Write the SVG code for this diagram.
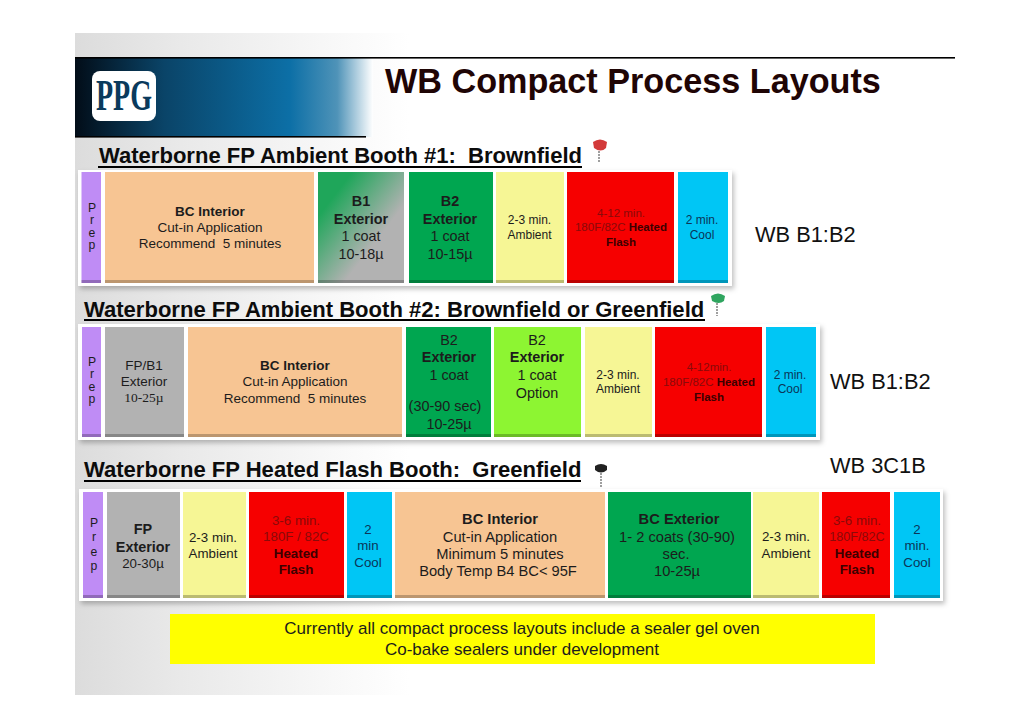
<svg xmlns="http://www.w3.org/2000/svg" width="1030" height="728" viewBox="0 0 1030 728">
<defs>
<linearGradient id="bg" x1="0" x2="1" y1="0" y2="0"><stop offset="0" stop-color="#dcdcdc"/><stop offset="0.12" stop-color="#e9e9e9"/><stop offset="0.28" stop-color="#f7f7f7"/><stop offset="0.38" stop-color="#fff"/></linearGradient>
<linearGradient id="band" x1="0" x2="1" y1="0" y2="0"><stop offset="0" stop-color="#020d18"/><stop offset="0.3" stop-color="#0a4468"/><stop offset="0.72" stop-color="#0c6fa6"/><stop offset="0.88" stop-color="#4f93b8"/><stop offset="1" stop-color="#fff"/></linearGradient>
<linearGradient id="b1" x1="0" y1="0" x2="1" y2="1"><stop offset="0.2" stop-color="#1fa65a"/><stop offset="0.65" stop-color="#b2b2b2"/></linearGradient>
<filter id="sh" x="-5%" y="-10%" width="110%" height="125%"><feDropShadow dx="2" dy="3" stdDeviation="2.5" flood-color="#000" flood-opacity="0.25"/></filter>
</defs>
<style>
text{font-family:"Liberation Sans",Arial,sans-serif;fill:#1c1c1c}
.c{text-anchor:middle}
.b{font-weight:700}
.h{font-size:22.05px;font-weight:700;fill:#0c0c0c}
.wb{font-size:21.8px;fill:#111}
.p{font-size:12.2px}
.s11{font-size:12px}
.sr{font-size:11.5px}
.s12{font-size:13.5px}
.s13{font-size:14.4px}
.s3{font-size:13.3px}
.s14{font-size:14.7px}
.r{fill:#8a0a0a}
.rb{fill:#3c0000;font-weight:700}
.cy{fill:#0b3558}
.panel{fill:#fff;filter:url(#sh)}
.edge{fill:#000;opacity:.24}
.serif{font-family:"Liberation Serif",serif}
.ul{stroke:#000;stroke-width:2}
.stem{stroke:#888;stroke-width:1.6;stroke-dasharray:2 1}
</style>
<rect id="slide" x="75" y="33" width="880" height="662" fill="url(#bg)"/>
<g id="header">
<rect x="75" y="57" width="298" height="80" fill="url(#band)"/>
<rect x="75" y="57" width="880" height="1.6" fill="#000"/>
<rect x="75" y="136" width="291" height="1.6" fill="#000"/>
<rect x="92" y="71" width="64" height="50" rx="8" fill="#fff"/>
<text x="124" y="110" class="c" font-size="44" font-weight="700" style="fill:#0a3a5c;font-family:'Liberation Serif',serif" textLength="56" lengthAdjust="spacingAndGlyphs">PPG</text>
<text x="385" y="93" font-size="34.2" font-weight="700" style="fill:#1f0505">WB Compact Process Layouts</text>
</g>
<g id="heading1"><text x="99" y="163" class="h" xml:space="preserve">Waterborne FP Ambient Booth #1:  Brownfield</text><line class="ul" x1="98" y1="167" x2="582" y2="167"/></g>
<g id="pin1"><line class="stem" x1="599" y1="151" x2="599" y2="163"/><path d="M593 142q7-5 14 0l-1 6q-5 5-12 0z" fill="#d33a3a"/></g>
<g id="heading2"><text x="84" y="317" class="h">Waterborne FP Ambient Booth #2: Brownfield or Greenfield</text><line class="ul" x1="84" y1="320" x2="705" y2="320"/></g>
<g id="pin2"><line class="stem" x1="717" y1="303" x2="717" y2="316"/><path d="M711 296q7-5 14 0l-1 5q-5 4-12 0z" fill="#2fa55f"/></g>
<g id="heading3"><text x="84" y="477" class="h" xml:space="preserve">Waterborne FP Heated Flash Booth:  Greenfield</text><line class="ul" x1="84" y1="481" x2="581" y2="481"/></g>
<g id="pin3"><line class="stem" x1="601" y1="473" x2="601" y2="487"/><path d="M595 466q6-4 12 0v4q-6 5-12 0z" fill="#222"/></g>

<rect class="panel" x="78" y="170" width="654" height="116"/>
<rect class="panel" x="78" y="324" width="742" height="116"/>
<rect class="panel" x="79" y="489" width="864" height="112"/>

<g id="r1-prep"><rect x="81.500" y="172" width="19.500" height="111" fill="#bf8cf5"/><rect class="edge" x="81.500" y="280" width="19.500" height="3"/><text class="c p" x="92" y="212">P</text><text class="c p" x="92" y="224">r</text><text class="c p" x="92" y="237">e</text><text class="c p" x="92" y="249">p</text></g>
<g id="r1-bc"><rect x="105" y="172" width="209" height="111" fill="#f7c593"/><rect class="edge" x="105" y="280" width="209" height="3"/><text class="c s12 b" x="210" y="216">BC Interior</text><text class="c s12" x="210" y="232">Cut-in Application</text><text class="c s12" x="210" y="248" xml:space="preserve">Recommend  5 minutes</text></g>
<g id="r1-b1"><rect x="318" y="172" width="86" height="111" fill="url(#b1)"/><rect class="edge" x="318" y="280" width="86" height="3"/><text class="c s13 b" x="361" y="206">B1</text><text class="c s13 b" x="361" y="224">Exterior</text><text class="c s13" x="361" y="241">1 coat</text><text class="c s13" x="361" y="259">10-18µ</text></g>
<g id="r1-b2"><rect x="409" y="172" width="84" height="111" fill="#00a650"/><rect class="edge" x="409" y="280" width="84" height="3"/><text class="c s13 b" x="450" y="206">B2</text><text class="c s13 b" x="450" y="224">Exterior</text><text class="c s13" x="450" y="241">1 coat</text><text class="c s13" x="450" y="259">10-15µ</text></g>
<g id="r1-amb"><rect x="496" y="172" width="68" height="111" fill="#f6f695"/><rect class="edge" x="496" y="280" width="68" height="3"/><text class="c s11" x="529.500" y="224">2-3 min.</text><text class="c s11" x="529.500" y="239">Ambient</text></g>
<g id="r1-heat"><rect x="567" y="172" width="107" height="111" fill="#f60000"/><rect class="edge" x="567" y="280" width="107" height="3"/><text class="c sr r" x="621" y="217">4-12 min.</text><text class="c sr" x="621" y="231"><tspan class="r">180F/82C </tspan><tspan class="rb">Heated</tspan></text><text class="c sr rb" x="621" y="246">Flash</text></g>
<g id="r1-cool"><rect x="678" y="172" width="50" height="111" fill="#00c6f5"/><rect class="edge" x="678" y="280" width="50" height="3"/><text class="c s11 cy" x="702" y="224">2 min.</text><text class="c s11 cy" x="702" y="239">Cool</text></g>
<text id="lab1" class="wb" x="755" y="242">WB B1:B2</text>

<g id="r2-prep"><rect x="82" y="327" width="19" height="110" fill="#bf8cf5"/><rect class="edge" x="82" y="434" width="19" height="3"/><text class="c p" x="92" y="366">P</text><text class="c p" x="92" y="378">r</text><text class="c p" x="92" y="391">e</text><text class="c p" x="92" y="403">p</text></g>
<g id="r2-fp"><rect x="105" y="327" width="79" height="110" fill="#b2b2b2"/><rect class="edge" x="105" y="434" width="79" height="3"/><text class="c s12" x="144" y="370">FP/B1</text><text class="c s12" x="144" y="386">Exterior</text><text class="c s12 serif" x="144" y="402">10-25µ</text></g>
<g id="r2-bc"><rect x="188" y="327" width="214" height="110" fill="#f7c593"/><rect class="edge" x="188" y="434" width="214" height="3"/><text class="c s12 b" x="295" y="370">BC Interior</text><text class="c s12" x="295" y="386">Cut-in Application</text><text class="c s12" x="295" y="403" xml:space="preserve">Recommend  5 minutes</text></g>
<g id="r2-b2"><rect x="406" y="327" width="85" height="110" fill="#00a650"/><rect class="edge" x="406" y="434" width="85" height="3"/><text class="c s13" x="449" y="345">B2</text><text class="c s13 b" x="449" y="362">Exterior</text><text class="c s13" x="449" y="380">1 coat</text><text class="c s13" x="445" y="411">(30-90 sec)</text><text class="c s13" x="449" y="429">10-25µ</text></g>
<g id="r2-opt"><rect x="494" y="327" width="87" height="110" fill="#8df532"/><rect class="edge" x="494" y="434" width="87" height="3"/><text class="c s13" x="537" y="345">B2</text><text class="c s13 b" x="537" y="362">Exterior</text><text class="c s13" x="537" y="380">1 coat</text><text class="c s13" x="537" y="398">Option</text></g>
<g id="r2-amb"><rect x="585" y="327" width="67" height="110" fill="#f6f695"/><rect class="edge" x="585" y="434" width="67" height="3"/><text class="c s11" x="618" y="379">2-3 min.</text><text class="c s11" x="618" y="393">Ambient</text></g>
<g id="r2-heat"><rect x="655" y="327" width="107" height="110" fill="#f60000"/><rect class="edge" x="655" y="434" width="107" height="3"/><text class="c sr r" x="709" y="371">4-12min.</text><text class="c sr" x="709" y="386"><tspan class="r">180F/82C </tspan><tspan class="rb">Heated</tspan></text><text class="c sr rb" x="709" y="401">Flash</text></g>
<g id="r2-cool"><rect x="766" y="327" width="50" height="110" fill="#00c6f5"/><rect class="edge" x="766" y="434" width="50" height="3"/><text class="c s11 cy" x="790" y="379">2 min.</text><text class="c s11 cy" x="790" y="393">Cool</text></g>
<text id="lab2" class="wb" x="830" y="389">WB B1:B2</text>
<text id="lab3" class="wb" x="830" y="473">WB 3C1B</text>

<g id="r3-prep"><rect x="83" y="492" width="20" height="106" fill="#bf8cf5"/><rect class="edge" x="83" y="595" width="20" height="3"/><text class="c p" x="94" y="527">P</text><text class="c p" x="94" y="541">r</text><text class="c p" x="94" y="556">e</text><text class="c p" x="94" y="570">p</text></g>
<g id="r3-fp"><rect x="107" y="492" width="73" height="106" fill="#b2b2b2"/><rect class="edge" x="107" y="595" width="73" height="3"/><text class="c s13 b" x="143" y="534">FP</text><text class="c s13 b" x="143" y="552">Exterior</text><text class="c s3" x="143" y="568">20-30µ</text></g>
<g id="r3-amb1"><rect x="183" y="492" width="63" height="106" fill="#f6f695"/><rect class="edge" x="183" y="595" width="63" height="3"/><text class="c s3" x="213" y="542">2-3 min.</text><text class="c s3" x="213" y="558">Ambient</text></g>
<g id="r3-heat1"><rect x="249" y="492" width="95" height="106" fill="#f60000"/><rect class="edge" x="249" y="595" width="95" height="3"/><text class="c s3 r" x="296" y="525">3-6 min.</text><text class="c s3 r" x="296" y="541">180F / 82C</text><text class="c s3 rb" x="296" y="558">Heated</text><text class="c s3 rb" x="296" y="574">Flash</text></g>
<g id="r3-cool1"><rect x="347" y="492" width="45" height="106" fill="#00c6f5"/><rect class="edge" x="347" y="595" width="45" height="3"/><text class="c s3 cy" x="368" y="534">2</text><text class="c s3 cy" x="368" y="550">min</text><text class="c s3 cy" x="368" y="567">Cool</text></g>
<g id="r3-bc"><rect x="395" y="492" width="210" height="106" fill="#f7c593"/><rect class="edge" x="395" y="595" width="210" height="3"/><text class="c s14 b" x="500" y="524">BC Interior</text><text class="c s14" x="500" y="542">Cut-in Application</text><text class="c s14" x="500" y="559">Minimum 5 minutes</text><text class="c s14" x="498" y="576">Body Temp B4 BC&lt; 95F</text></g>
<g id="r3-ext"><rect x="608" y="492" width="143" height="106" fill="#00a650"/><rect class="edge" x="608" y="595" width="143" height="3"/><text class="c s14 b" x="679" y="524">BC Exterior</text><text class="c s14" x="677" y="542">1- 2 coats (30-90)</text><text class="c s14" x="676" y="559">sec.</text><text class="c s14" x="677" y="576">10-25µ</text></g>
<g id="r3-amb2"><rect x="753" y="492" width="66" height="106" fill="#f6f695"/><rect class="edge" x="753" y="595" width="66" height="3"/><text class="c s3" x="786" y="541">2-3 min.</text><text class="c s3" x="786" y="558">Ambient</text></g>
<g id="r3-heat2"><rect x="822" y="492" width="68" height="106" fill="#f60000"/><rect class="edge" x="822" y="595" width="68" height="3"/><text class="c s3 r" x="857" y="525">3-6 min.</text><text class="c s3 r" x="857" y="541" style="font-size:12.6px">180F/82C</text><text class="c s3 rb" x="857" y="558">Heated</text><text class="c s3 rb" x="857" y="574">Flash</text></g>
<g id="r3-cool2"><rect x="894" y="492" width="46" height="106" fill="#00c6f5"/><rect class="edge" x="894" y="595" width="46" height="3"/><text class="c s3 cy" x="917" y="534">2</text><text class="c s3 cy" x="917" y="550">min.</text><text class="c s3 cy" x="917" y="567">Cool</text></g>

<g id="note"><rect x="170" y="614" width="705" height="50" fill="#ff0"/><text class="c" font-size="17" x="522" y="634">Currently all compact process layouts include a sealer gel oven</text><text class="c" font-size="17" x="522" y="655">Co-bake sealers under development</text></g>
</svg>
